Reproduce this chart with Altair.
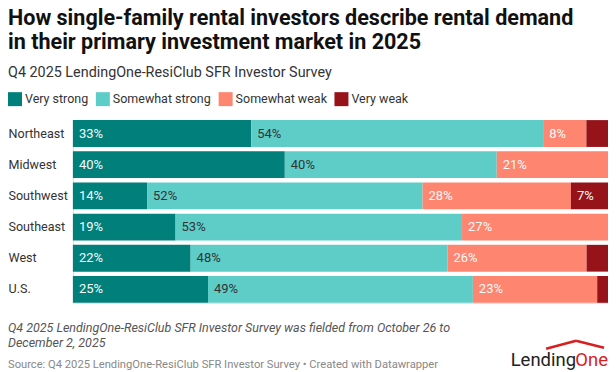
import altair as alt
import pandas as pd

regions = ["Northeast", "Midwest", "Southwest", "Southeast", "West", "U.S."]
categories = ["Very strong", "Somewhat strong", "Somewhat weak", "Very weak"]
very_strong = [33, 40, 14, 19, 22, 25]
somewhat_strong = [54, 40, 52, 53, 48, 49]
somewhat_weak = [8, 21, 28, 27, 26, 23]
very_weak = [4, 0, 7, 0, 4, 2]
colors = ["#007f7b", "#5ecdc8", "#fe8570", "#96131a"]

title_lines = ["How single-family rental investors describe rental demand",
               "in their primary investment market in 2025"]
subtitle = "Q4 2025 LendingOne-ResiClub SFR Investor Survey"
note_lines = ["Q4 2025 LendingOne-ResiClub SFR Investor Survey was fielded from October 26 to",
              "December 2, 2025"]
source = "Source: Q4 2025 LendingOne-ResiClub SFR Investor Survey \u2022 Created with Datawrapper"

rows = []
series = [very_strong, somewhat_strong, somewhat_weak, very_weak]
for ci, (cat, vals) in enumerate(zip(categories, series)):
    for r, v in zip(regions, vals):
        rows.append({"region": r, "category": cat, "rank": ci, "value": v})
df = pd.DataFrame(rows)

FONT = "Roboto"

base = (
    alt.Chart(df)
    .transform_joinaggregate(total="sum(value)", groupby=["region"])
    .transform_window(cum="sum(value)", sort=[alt.SortField("rank")],
                      groupby=["region"], frame=[None, 0])
    .transform_calculate(start="(datum.cum - datum.value) / datum.total",
                         end="datum.cum / datum.total")
)

yenc = alt.Y("region:N", sort=regions,
             scale=alt.Scale(paddingInner=0.14, paddingOuter=0),
             axis=alt.Axis(title=None, domain=False, ticks=False, tickSize=0,
                           labelAlign="left", labelPadding=65, labelFontSize=12.6,
                           labelColor="#333333", labelFont=FONT))
xscale = alt.Scale(domain=[0, 1], nice=False, zero=True)

bars = base.transform_filter("datum.value > 0").mark_bar().encode(
    x=alt.X("start:Q", scale=xscale, axis=None),
    x2="end:Q",
    y=yenc,
    color=alt.Color("category:N", sort=categories,
                    scale=alt.Scale(domain=categories, range=colors),
                    legend=alt.Legend(orient="none", legendX=-65, legendY=-28,
                                      direction="horizontal", columns=4, title=None,
                                      symbolType="square", symbolSize=196,
                                      symbolStrokeWidth=0, symbolOpacity=1,
                                      labelFontSize=12.5, labelColor="#333333",
                                      labelFont=FONT, columnPadding=7,
                                      labelOffset=3)),
)

labels = base.transform_filter("datum.value >= 5").mark_text(
    align="left", baseline="middle", dx=6, fontSize=13, font=FONT
).encode(
    x=alt.X("start:Q", scale=xscale, axis=None),
    y=yenc,
    text=alt.Text("label:N"),
    color=alt.condition("datum.category == 'Somewhat strong'",
                        alt.value("#333333"), alt.value("#f4fbfa")),
).transform_calculate(label="datum.value + '%'")


def txt(s, x, y, **kw):
    return alt.Chart(pd.DataFrame({"t": [s]})).mark_text(
        baseline="alphabetic", font=FONT, **kw
    ).encode(text="t:N", x=alt.value(x), y=alt.value(y))


ann = [
    txt(title_lines[0], -65, -95, align="left", fontSize=21.6, fontWeight="bold", color="#111111"),
    txt(title_lines[1], -65, -71, align="left", fontSize=21.6, fontWeight="bold", color="#111111"),
    txt(subtitle, -65, -43, align="left", fontSize=14.4, color="#333333"),
    txt(note_lines[0], -65, 212, align="left", fontSize=12.5, fontStyle="italic", color="#555555"),
    txt(note_lines[1], -65, 227, align="left", fontSize=12.5, fontStyle="italic", color="#555555"),
    txt(source, -65, 248, align="left", fontSize=11.2, color="#888888"),
    txt("Lending", 504, 246, align="right", fontSize=18.5, color="#222222"),
    txt("One", 536, 246, align="right", fontSize=18.5, color="#d81e1e"),
]

roof = [
    alt.Chart(pd.DataFrame({"a": [0]})).mark_rule(color="#d81e1e", strokeWidth=2.5).encode(
        x=alt.value(474), y=alt.value(229), x2=alt.value(504), y2=alt.value(221)),
    alt.Chart(pd.DataFrame({"a": [0]})).mark_rule(color="#d81e1e", strokeWidth=2.5).encode(
        x=alt.value(504), y=alt.value(221), x2=alt.value(532), y2=alt.value(228)),
]

chart = alt.layer(bars, labels, *ann, *roof).properties(
    width=536, height=183,
    autosize=alt.AutoSizeParams(type="none"),
    padding={"left": 65, "top": 112, "right": 0, "bottom": 69},
).configure_view(stroke=None).configure(font=FONT)

chart.save("out.html", embed_options={"renderer": "svg", "actions": False})
